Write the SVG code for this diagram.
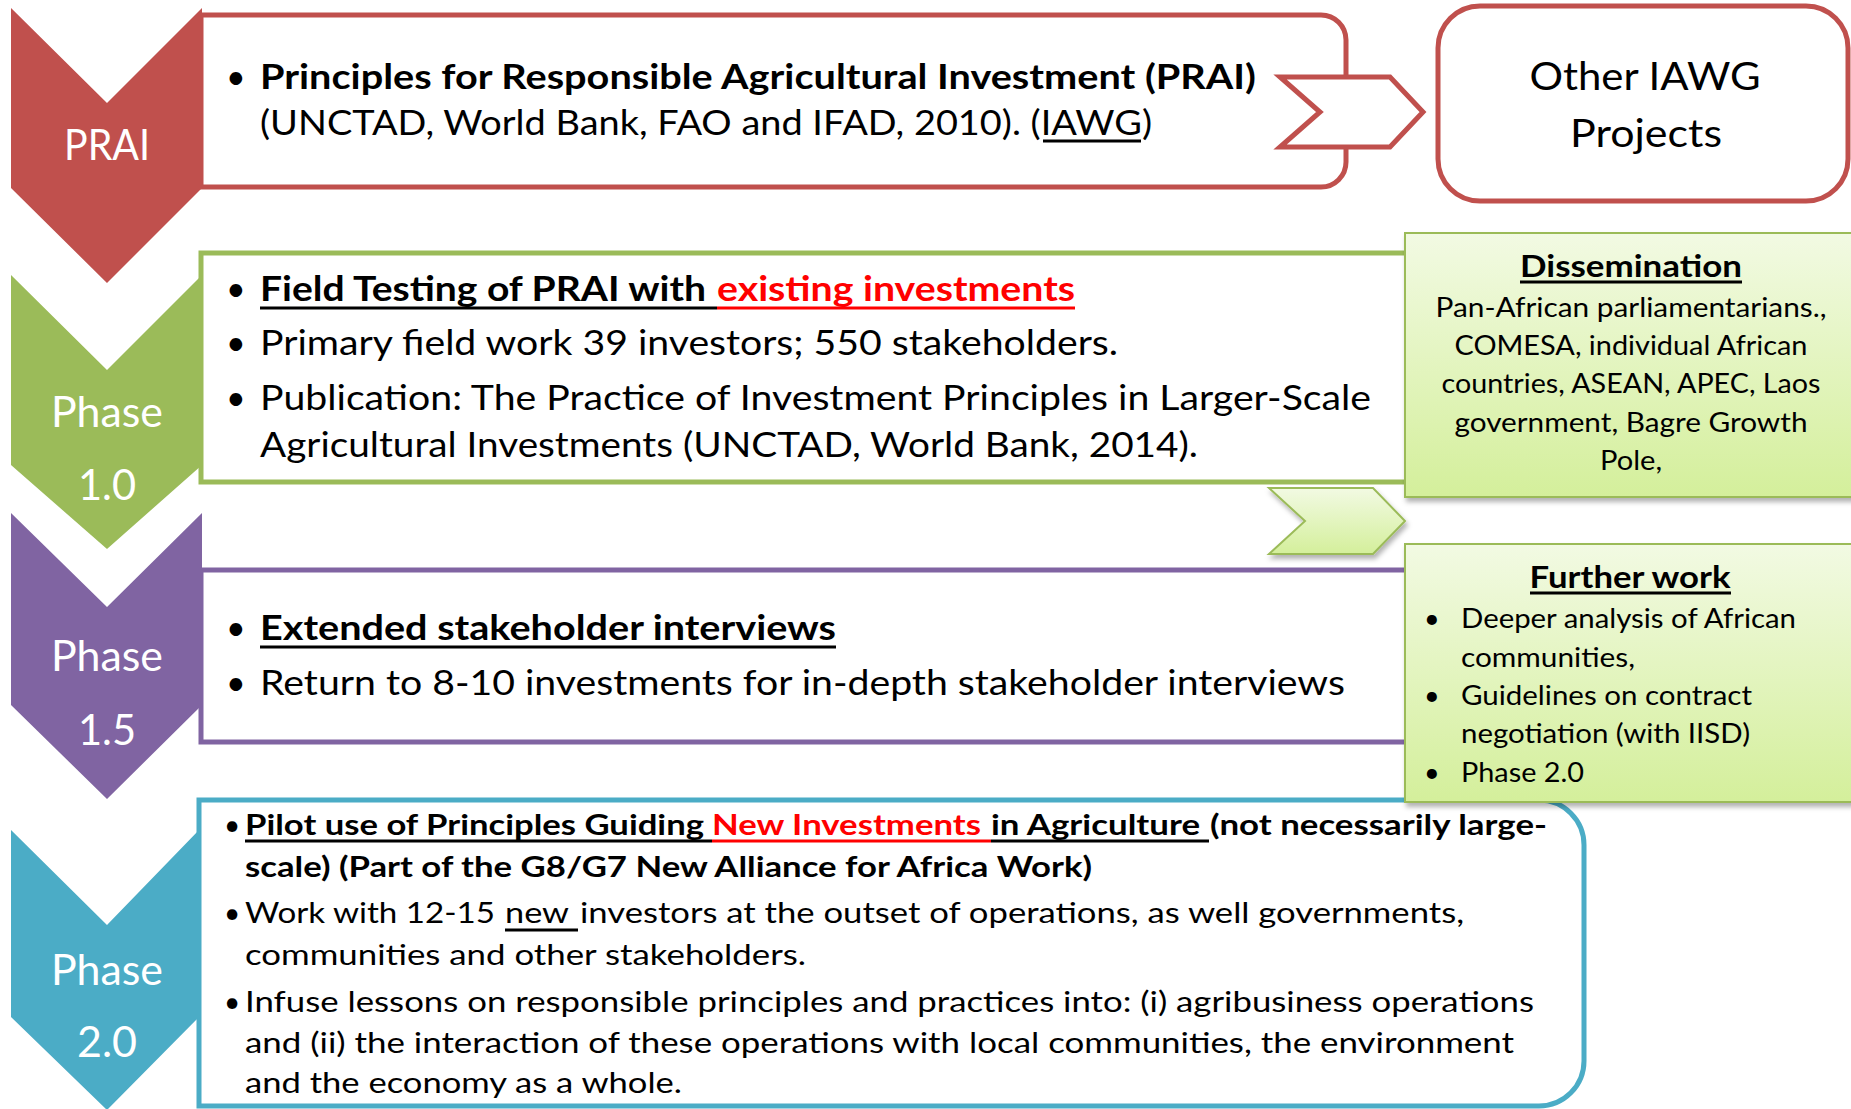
<svg xmlns="http://www.w3.org/2000/svg" width="1851" height="1109" viewBox="0 0 1851 1109">
<defs>
<linearGradient id="gg" x1="0" y1="0" x2="0" y2="1">
<stop offset="0" stop-color="#F2FAE3"/>
<stop offset="1" stop-color="#D4EF9B"/>
</linearGradient>
<filter id="sh" x="-5%" y="-5%" width="115%" height="120%">
<feDropShadow dx="2" dy="4" stdDeviation="2.5" flood-color="#000" flood-opacity="0.3"/>
</filter>
<style>
text{font-family:Lato,"Liberation Sans",sans-serif;fill:#000}
.m{font-size:34px}
.b{font-weight:bold}
.red{fill:#FF0000}
.lab{font-size:42px;fill:#fff;text-anchor:middle}
.sm{font-size:27px}
.bs{font-size:28px}
.ttl{font-size:30px;font-weight:bold;text-anchor:middle}
.c{text-anchor:middle}
.ul{stroke:#000;stroke-width:3}
.ulr{stroke:#FF0000;stroke-width:3}
.gbox{fill:url(#gg);stroke:#9BBB59;stroke-width:2;filter:url(#sh)}
</style>
</defs>

<g id="box-prai">
<path d="M201,15 H1321 A25,25 0 0 1 1346,40 V162 A25,25 0 0 1 1321,187 H201 Z" fill="#fff" stroke="#C0504D" stroke-width="5"/>
<text class="m" x="226" y="89">•</text>
<text class="m b" x="260" y="89" textLength="996" lengthAdjust="spacingAndGlyphs">Principles for Responsible Agricultural Investment (PRAI)</text>
<text class="m" x="260" y="135" textLength="892" lengthAdjust="spacingAndGlyphs">(UNCTAD, World Bank, FAO and IFAD, 2010). (IAWG)</text>
<line class="ul" x1="1043" y1="141" x2="1141" y2="141" stroke-width="2.5"/>
</g>

<g id="connectors">
<polygon id="arrow-red" points="1280,77 1390,77 1423,112 1390,147 1280,147 1320,112" fill="#fff" stroke="#C0504D" stroke-width="5"/>
</g>

<g id="other-iawg">
<rect x="1438" y="6" width="410" height="195" rx="42" fill="#fff" stroke="#C0504D" stroke-width="5"/>
<text x="1645" y="90" font-size="39" class="c" textLength="231" lengthAdjust="spacingAndGlyphs">Other IAWG</text>
<text x="1646" y="147" font-size="39" class="c" textLength="152" lengthAdjust="spacingAndGlyphs">Projects</text>
</g>

<g id="box-phase10">
<rect x="201" y="253" width="1260" height="229" fill="#fff" stroke="#9BBB59" stroke-width="5"/>
<text class="m" x="226" y="301">•</text>
<text class="m b" x="260" y="301" textLength="446" lengthAdjust="spacingAndGlyphs">Field Testing of PRAI with</text>
<text class="m b red" x="717" y="301" textLength="358" lengthAdjust="spacingAndGlyphs">existing investments</text>
<line class="ul" x1="260" y1="308" x2="717" y2="308"/>
<line class="ulr" x1="717" y1="308" x2="1075" y2="308"/>
<text class="m" x="226" y="355">•</text>
<text class="m" x="260" y="355" textLength="858" lengthAdjust="spacingAndGlyphs">Primary field work 39 investors; 550 stakeholders.</text>
<text class="m" x="226" y="410">•</text>
<text class="m" x="260" y="410" textLength="1111" lengthAdjust="spacingAndGlyphs">Publication: The Practice of Investment Principles in Larger-Scale</text>
<text class="m" x="260" y="457" textLength="938" lengthAdjust="spacingAndGlyphs">Agricultural Investments (UNCTAD, World Bank, 2014).</text>
</g>

<g id="box-phase15">
<rect x="201" y="570" width="1260" height="172" fill="#fff" stroke="#8064A2" stroke-width="5"/>
<text class="m" x="226" y="640">•</text>
<text class="m b" x="260" y="640" textLength="576" lengthAdjust="spacingAndGlyphs">Extended stakeholder interviews</text>
<line class="ul" x1="260" y1="647" x2="836" y2="647"/>
<text class="m" x="226" y="695">•</text>
<text class="m" x="260" y="695" textLength="1085" lengthAdjust="spacingAndGlyphs">Return to 8-10 investments for in-depth stakeholder interviews</text>
</g>

<g id="box-phase20">
<path d="M199,800 H1539 A45,45 0 0 1 1584,845 V1061 A45,45 0 0 1 1539,1106 H199 Z" fill="#fff" stroke="#4BACC6" stroke-width="5"/>
<text class="bs" x="224" y="835">•</text>
<text class="bs b" x="245" y="835" textLength="459" lengthAdjust="spacingAndGlyphs">Pilot use of Principles Guiding</text>
<text class="bs b red" x="712" y="835" textLength="269" lengthAdjust="spacingAndGlyphs">New Investments</text>
<text class="bs b" x="991" y="835" textLength="209" lengthAdjust="spacingAndGlyphs">in Agriculture</text>
<text class="bs b" x="1210" y="835" textLength="337" lengthAdjust="spacingAndGlyphs">(not necessarily large-</text>
<line class="ul" x1="245" y1="841" x2="712" y2="841"/>
<line class="ulr" x1="712" y1="841" x2="991" y2="841"/>
<line class="ul" x1="991" y1="841" x2="1209" y2="841"/>
<text class="bs b" x="245" y="877" textLength="847" lengthAdjust="spacingAndGlyphs">scale) (Part of the G8/G7 New Alliance for Africa Work)</text>
<text class="bs" x="224" y="923">•</text>
<text class="bs" x="245" y="923" textLength="250" lengthAdjust="spacingAndGlyphs">Work with 12-15</text>
<text class="bs" x="505" y="923" textLength="64" lengthAdjust="spacingAndGlyphs">new</text>
<text class="bs" x="580" y="923" textLength="884" lengthAdjust="spacingAndGlyphs">investors at the outset of operations, as well governments,</text>
<line class="ul" x1="505" y1="930" x2="578" y2="930" stroke-width="2.5"/>
<text class="bs" x="245" y="965" textLength="561" lengthAdjust="spacingAndGlyphs">communities and other stakeholders.</text>
<text class="bs" x="224" y="1012">•</text>
<text class="bs" x="245" y="1012" textLength="1289" lengthAdjust="spacingAndGlyphs">Infuse lessons on responsible principles and practices into: (i) agribusiness operations</text>
<text class="bs" x="245" y="1053" textLength="1269" lengthAdjust="spacingAndGlyphs">and (ii) the interaction of these operations with local communities, the environment</text>
<text class="bs" x="245" y="1093" textLength="437" lengthAdjust="spacingAndGlyphs">and the economy as a whole.</text>
</g>

<g id="chevron-prai">
<polygon points="11,8 107,103 202,8 202,188 107,283 11,188" fill="#C0504D"/>
<text class="lab" x="107" y="160" textLength="86" lengthAdjust="spacingAndGlyphs">PRAI</text>
</g>
<g id="chevron-phase10">
<polygon points="11,275 107,370 202,275 202,465 107,549 11,465" fill="#9BBB59"/>
<text class="lab" x="107" y="427" textLength="112" lengthAdjust="spacingAndGlyphs">Phase</text>
<text class="lab" x="107" y="500" textLength="58" lengthAdjust="spacingAndGlyphs">1.0</text>
</g>
<g id="chevron-phase15">
<polygon points="11,513 107,607 202,513 202,705 107,799 11,705" fill="#8064A2"/>
<text class="lab" x="107" y="671" textLength="112" lengthAdjust="spacingAndGlyphs">Phase</text>
<text class="lab" x="107" y="745" textLength="58" lengthAdjust="spacingAndGlyphs">1.5</text>
</g>
<g id="chevron-phase20">
<polygon points="11,830 107,925 199,830 199,1017 107,1110 11,1017" fill="#4BACC6"/>
<text class="lab" x="107" y="985" textLength="112" lengthAdjust="spacingAndGlyphs">Phase</text>
<text class="lab" x="107" y="1057" textLength="60" lengthAdjust="spacingAndGlyphs">2.0</text>
</g>

<g id="arrow-green">
<polygon points="1269,488 1373,488 1405,521 1373,554 1269,554 1305,521" class="gbox"/>
</g>

<g id="dissemination">
<rect x="1405" y="233" width="460" height="264" class="gbox"/>
<text class="ttl" x="1631" y="277" textLength="222" lengthAdjust="spacingAndGlyphs">Dissemination</text>
<line class="ul" x1="1520" y1="282" x2="1742" y2="282" stroke-width="2.5"/>
<text class="sm c" x="1631" y="317" textLength="391" lengthAdjust="spacingAndGlyphs">Pan-African parliamentarians.,</text>
<text class="sm c" x="1631" y="355" textLength="353" lengthAdjust="spacingAndGlyphs">COMESA, individual African</text>
<text class="sm c" x="1631" y="393" textLength="379" lengthAdjust="spacingAndGlyphs">countries, ASEAN, APEC, Laos</text>
<text class="sm c" x="1631" y="432" textLength="353" lengthAdjust="spacingAndGlyphs">government, Bagre Growth</text>
<text class="sm c" x="1631" y="470" textLength="62" lengthAdjust="spacingAndGlyphs">Pole,</text>
</g>

<g id="further-work">
<rect x="1405" y="544" width="460" height="258" class="gbox"/>
<text class="ttl" x="1630" y="588" textLength="201" lengthAdjust="spacingAndGlyphs">Further work</text>
<line class="ul" x1="1530" y1="593" x2="1731" y2="593" stroke-width="2.5"/>
<text class="sm" x="1424" y="628">•</text>
<text class="sm" x="1461" y="628" textLength="335" lengthAdjust="spacingAndGlyphs">Deeper analysis of African</text>
<text class="sm" x="1461" y="667" textLength="174" lengthAdjust="spacingAndGlyphs">communities,</text>
<text class="sm" x="1424" y="705">•</text>
<text class="sm" x="1461" y="705" textLength="291" lengthAdjust="spacingAndGlyphs">Guidelines on contract</text>
<text class="sm" x="1461" y="743" textLength="289" lengthAdjust="spacingAndGlyphs">negotiation (with IISD)</text>
<text class="sm" x="1424" y="782">•</text>
<text class="sm" x="1461" y="782" textLength="123" lengthAdjust="spacingAndGlyphs">Phase 2.0</text>
</g>
</svg>
